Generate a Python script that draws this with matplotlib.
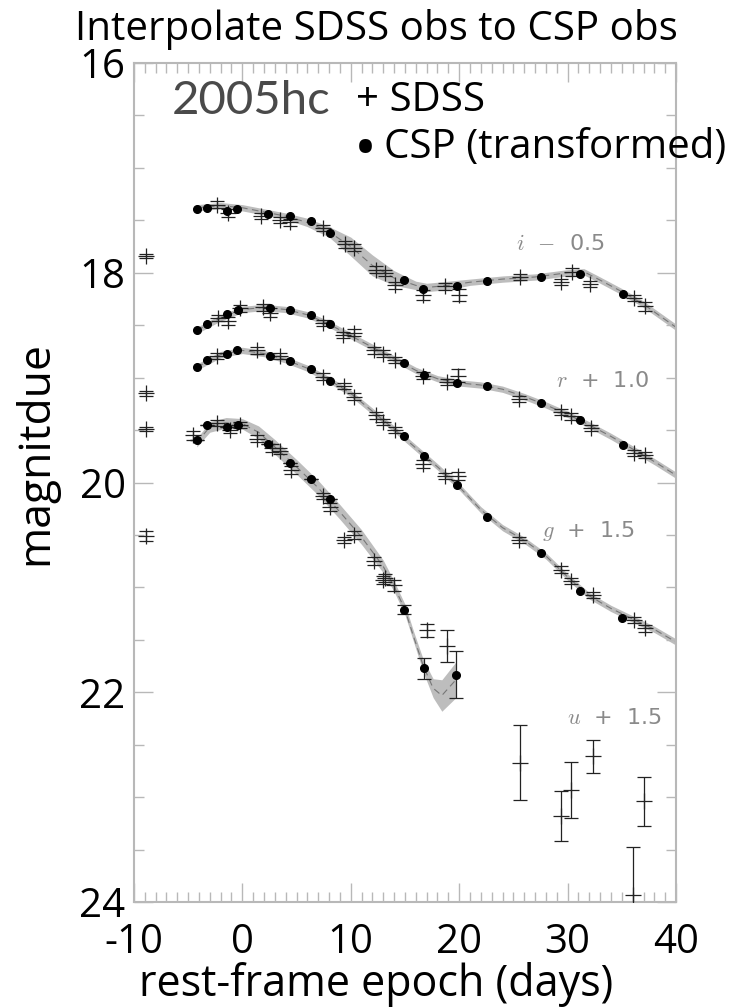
import matplotlib
matplotlib.use("Agg")
import matplotlib.pyplot as plt
from matplotlib.ticker import MultipleLocator
from matplotlib.transforms import ScaledTranslation

plt.rcParams['mathtext.fontset'] = 'cm'
plt.rcParams['axes.unicode_minus'] = False

# ---- i band (i - 0.5) ----
i_csp_day = [-4.2, -3.3, -1.4, -0.5, 2.4, 4.4, 6.3, 8.1, 14.9, 16.7, 19.8, 22.6, 27.5, 31.1, 35.1]
i_csp_mag = [17.39, 17.38, 17.41, 17.39, 17.44, 17.46, 17.51, 17.62, 18.07, 18.15, 18.13, 18.08, 18.04, 18.01, 18.20]
i_sdss_day = [-8.9, -2.3, -1.3, 1.7, 3.5, 4.4, 7.4, 9.5, 10.3, 12.3, 13.2, 14.1, 16.7, 18.7, 20.0, 25.6, 29.4, 30.4, 32.1, 36.1, 37.1]
i_sdss_mag = [17.84, 17.35, 17.43, 17.46, 17.50, 17.52, 17.57, 17.73, 17.76, 17.97, 18.00, 18.12, 18.21, 18.13, 18.21, 18.04, 18.09, 17.99, 18.11, 18.24, 18.32]
i_sdss_err = [0.02, 0.03, 0.04, 0.03, 0.03, 0.03, 0.03, 0.03, 0.03, 0.03, 0.03, 0.03, 0.05, 0.03, 0.06, 0.03, 0.03, 0.04, 0.03, 0.03, 0.04]
i_fit_day = [-4.2, -2.0, 0.0, 2.0, 4.0, 6.0, 8.0, 10.0, 12.0, 14.0, 16.0, 17.0, 19.0, 21.0, 24.0, 27.0, 30.0, 31.5, 33.0, 35.0, 37.0, 40.0]
i_fit_mag = [17.38, 17.36, 17.38, 17.42, 17.46, 17.52, 17.61, 17.75, 17.93, 18.05, 18.12, 18.14, 18.12, 18.09, 18.06, 18.04, 18.00, 17.99, 18.07, 18.18, 18.30, 18.52]
i_fit_err = [0.03, 0.03, 0.03, 0.03, 0.03, 0.04, 0.05, 0.09, 0.10, 0.07, 0.04, 0.04, 0.04, 0.03, 0.03, 0.03, 0.03, 0.03, 0.03, 0.03, 0.03, 0.03]

# ---- r band (r + 1.0) ----
r_csp_day = [-4.2, -3.3, -1.4, -0.4, 2.6, 4.4, 6.3, 8.1, 14.9, 16.8, 19.8, 22.6, 27.5, 31.1, 35.1]
r_csp_mag = [18.55, 18.49, 18.39, 18.35, 18.34, 18.35, 18.40, 18.49, 18.86, 18.97, 19.05, 19.08, 19.24, 19.40, 19.64]
r_sdss_day = [-2.2, -1.3, -0.2, 1.9, 2.6, 7.4, 9.3, 10.3, 12.1, 13.0, 14.1, 16.7, 18.9, 19.9, 25.5, 29.4, 30.3, 32.2, 36.1, 37.1]
r_sdss_mag = [18.43, 18.46, 18.34, 18.33, 18.38, 18.48, 18.59, 18.57, 18.74, 18.77, 18.83, 18.98, 19.04, 18.98, 19.20, 19.33, 19.37, 19.48, 19.72, 19.74]
r_sdss_err = [0.03, 0.04, 0.03, 0.03, 0.04, 0.03, 0.03, 0.03, 0.03, 0.03, 0.03, 0.03, 0.03, 0.06, 0.03, 0.03, 0.03, 0.03, 0.03, 0.03]
r_fit_day = [-4.2, -2.0, 0.0, 2.0, 4.0, 6.0, 8.0, 10.0, 12.0, 14.0, 16.0, 18.0, 20.0, 22.0, 24.0, 26.0, 28.0, 30.0, 32.0, 34.0, 36.0, 38.0, 40.0]
r_fit_mag = [18.55, 18.43, 18.35, 18.33, 18.35, 18.40, 18.49, 18.60, 18.71, 18.82, 18.93, 19.01, 19.05, 19.07, 19.11, 19.18, 19.26, 19.35, 19.45, 19.56, 19.68, 19.80, 19.93]
r_fit_err = [0.03] * 23

# ---- g band (g + 1.5) ----
g_csp_day = [-4.2, -3.3, -1.4, -0.5, 2.6, 4.4, 6.3, 8.1, 14.9, 16.8, 19.8, 22.6, 27.5, 31.1, 35.0]
g_csp_mag = [18.90, 18.83, 18.77, 18.74, 18.79, 18.84, 18.92, 19.03, 19.56, 19.75, 20.02, 20.33, 20.67, 21.03, 21.29]
g_sdss_day = [-2.3, 1.4, 3.5, 7.4, 9.4, 10.3, 12.3, 13.0, 14.1, 16.7, 18.7, 19.9, 25.5, 29.4, 30.3, 32.3, 36.1, 37.1]
g_sdss_mag = [18.79, 18.74, 18.79, 18.99, 19.08, 19.18, 19.36, 19.42, 19.50, 19.82, 19.94, 19.94, 20.55, 20.83, 20.94, 21.07, 21.31, 21.39]
g_sdss_err = [0.03, 0.03, 0.03, 0.03, 0.03, 0.03, 0.03, 0.03, 0.03, 0.04, 0.03, 0.04, 0.03, 0.03, 0.03, 0.03, 0.03, 0.03]
g_fit_day = [-4.2, -2.0, 0.0, 2.0, 4.0, 6.0, 8.0, 10.0, 12.0, 14.0, 16.0, 18.0, 20.0, 22.0, 24.0, 26.0, 28.0, 30.0, 32.0, 34.0, 36.0, 38.0, 40.0]
g_fit_mag = [18.90, 18.78, 18.74, 18.77, 18.83, 18.91, 19.02, 19.15, 19.32, 19.49, 19.67, 19.85, 20.04, 20.26, 20.43, 20.55, 20.70, 20.90, 21.08, 21.20, 21.30, 21.40, 21.52]
g_fit_err = [0.03] * 23

# ---- u band (u + 1.5) ----
u_csp_day = [-4.2, -3.3, -1.4, -0.4, 2.4, 4.4, 6.3, 8.1, 14.9, 16.8, 19.7]
u_csp_mag = [19.59, 19.45, 19.47, 19.45, 19.63, 19.81, 19.97, 20.16, 21.21, 21.77, 21.83]
u_csp_err = [0.0, 0.0, 0.0, 0.0, 0.0, 0.0, 0.0, 0.0, 0.04, 0.10, 0.22]
u_sdss_day = [-8.9, -8.9, -8.9, -4.5, -2.3, -1.1, -0.2, 1.4, 2.7, 3.5, 4.5, 7.4, 8.1, 9.4, 10.3, 12.1, 13.2, 13.0, 14.0,
              17.0, 18.9, 25.6, 29.4, 30.3, 32.3, 36.0, 37.0]
u_sdss_mag = [19.15, 19.49, 20.51, 19.55, 19.43, 19.50, 19.45, 19.58, 19.67, 19.70, 19.88, 20.13, 20.23, 20.55, 20.50, 20.75, 20.91, 20.93, 20.98,
              21.41, 21.56, 22.67, 23.18, 22.93, 22.61, 23.93, 23.04]
u_sdss_err = [0.02, 0.02, 0.05, 0.04, 0.03, 0.03, 0.03, 0.03, 0.04, 0.03, 0.04, 0.03, 0.04, 0.03, 0.04, 0.04, 0.04, 0.04, 0.05,
              0.06, 0.15, 0.36, 0.24, 0.27, 0.16, 0.46, 0.23]
u_fit_day = [-4.2, -3.0, -1.5, 0.0, 1.5, 3.0, 5.0, 7.0, 9.0, 11.0, 13.0, 14.0, 15.0, 15.8, 16.7, 17.6, 18.4, 19.7]
u_fit_mag = [19.62, 19.47, 19.43, 19.44, 19.52, 19.66, 19.85, 20.05, 20.28, 20.52, 20.80, 20.99, 21.21, 21.47, 21.75, 21.96, 22.03, 21.88]
u_fit_err = [0.04, 0.05, 0.05, 0.05, 0.06, 0.07, 0.07, 0.07, 0.07, 0.07, 0.06, 0.05, 0.05, 0.05, 0.06, 0.09, 0.15, 0.17]

band_labels = [r'$i$  $-$  0.5', r'$r$  +  1.0', r'$g$  +  1.5', r'$u$  +  1.5']
label_day = [29.3, 33.2, 31.9, 34.3]
label_mag = [17.73, 19.03, 20.46, 22.24]

frame_gray = '#b8b8b8'
band_gray = '#bdbdbd'
big_font = 'Open Sans'

fig = plt.figure(figsize=(7.52, 10.08), dpi=100)
ax = fig.add_axes([0.178, 0.105, 0.721, 0.8325])

fits = [(i_fit_day, i_fit_mag, i_fit_err), (r_fit_day, r_fit_mag, r_fit_err),
        (g_fit_day, g_fit_mag, g_fit_err), (u_fit_day, u_fit_mag, u_fit_err)]
for d, m, e in fits:
    lo = [a - b for a, b in zip(m, e)]
    hi = [a + b for a, b in zip(m, e)]
    ax.fill_between(d, lo, hi, color=band_gray, lw=0, zorder=1)
    ax.plot(d, m, color='#777777', lw=0.8, ls=(0, (6, 4)), zorder=2)

sdss = [(i_sdss_day, i_sdss_mag, i_sdss_err), (r_sdss_day, r_sdss_mag, r_sdss_err),
        (g_sdss_day, g_sdss_mag, g_sdss_err), (u_sdss_day, u_sdss_mag, u_sdss_err)]
for d, m, e in sdss:
    ax.errorbar(d, m, yerr=e, fmt='+', color='#222222', ms=11, mew=0.9,
                elinewidth=0.9, capsize=5, capthick=0.9, zorder=3)

ax.errorbar(u_csp_day, u_csp_mag, yerr=u_csp_err, fmt='none', ecolor='#222222',
            elinewidth=0.9, capsize=5, capthick=0.9, zorder=3)
for d, m in [(i_csp_day, i_csp_mag), (r_csp_day, r_csp_mag),
             (g_csp_day, g_csp_mag), (u_csp_day, u_csp_mag)]:
    ax.plot(d, m, 'o', color='black', ms=5.5, zorder=4)

for lab, x, y in zip(band_labels, label_day, label_mag):
    ax.text(x, y, lab, color='#8a8a8a', fontsize=16, ha='center', va='center')

ax.text(0.8, 16.36, '2005hc', color='#4a4a4a', fontsize=34, fontfamily='Lato',
        ha='center', va='center')

ax.set_xlim(-10, 40)
ax.set_ylim(24, 16)
ax.xaxis.set_major_locator(MultipleLocator(10))
ax.xaxis.set_minor_locator(MultipleLocator(1))
ax.yaxis.set_major_locator(MultipleLocator(2))
ax.yaxis.set_minor_locator(MultipleLocator(0.5))
ax.tick_params(which='both', direction='in', top=True, right=True, color=frame_gray,
               width=1.0, labelsize=29)
ax.tick_params(which='major', length=14)
ax.tick_params(which='minor', length=7)
ax.tick_params(axis='x', which='both', pad=15)
ax.tick_params(axis='y', which='both', pad=6)
for sp in ax.spines.values():
    sp.set_color(frame_gray)
    sp.set_linewidth(1.5)
for lab in ax.get_xticklabels() + ax.get_yticklabels():
    lab.set_fontfamily(big_font)

# nudge the top y label down a little, as on the original slide
ylabs = ax.get_yticklabels()
ylabs[0].set_transform(ylabs[0].get_transform() +
                       ScaledTranslation(0, -10 / 72, fig.dpi_scale_trans))

ax.set_xlabel('rest-frame epoch (days)', fontsize=31, fontfamily=big_font)
ax.set_ylabel('magnitdue', fontsize=32, fontfamily=big_font)
ax.xaxis.set_label_coords(0.446, -0.071)
ax.yaxis.set_label_coords(-0.14, 0.535)

fig.text(0.5, 0.971, 'Interpolate SDSS obs to CSP obs', fontsize=29, fontfamily=big_font,
         ha='center', va='center')
fig.text(0.473, 0.890, '+ SDSS', fontsize=29, fontfamily=big_font, ha='left', va='baseline')
fig.text(0.471, 0.833, '\u2022', fontsize=44, fontfamily=big_font, ha='left', va='baseline')
fig.text(0.510, 0.843, 'CSP (transformed)', fontsize=29, fontfamily=big_font,
         ha='left', va='baseline')

fig.savefig('out.png', dpi=100)
